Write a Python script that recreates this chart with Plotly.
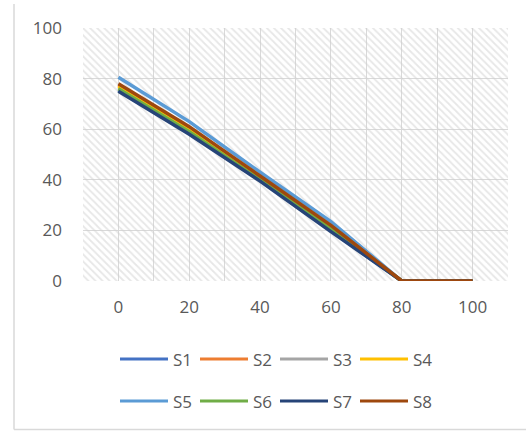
import plotly.graph_objects as go

# Category positions on the x axis
x_vals = [0, 20, 40, 60, 80, 100]

# Series values
s1 = [75.5, 58.5, 40.0, 20.0, 0, 0]
s2 = [77.5, 60.5, 41.0, 21.5, 0, 0]
s3 = [76.5, 59.5, 40.5, 21.0, 0, 0]
s4 = [77.0, 60.0, 40.5, 21.0, 0, 0]
s5 = [80.5, 63.0, 43.0, 23.5, 0, 0]
s6 = [76.0, 59.0, 40.0, 20.5, 0, 0]
s7 = [75.0, 58.0, 39.5, 19.5, 0, 0]
s8 = [78.0, 61.0, 41.5, 22.0, 0, 0]

series_names = ["S1", "S2", "S3", "S4", "S5", "S6", "S7", "S8"]
series_values = [s1, s2, s3, s4, s5, s6, s7, s8]
series_colors = ["#4472C4", "#ED7D31", "#A5A5A5", "#FFC000",
                 "#5B9BD5", "#70AD47", "#264478", "#9E480E"]

x_range = [-10, 110]
y_range = [0, 100]

W, H = 526, 431
ML, MR, MT, MB = 83, 18, 28, 150
PW, PH = W - ML - MR, H - MT - MB

TEXT = "#595959"
GRID = "#d9d9d9"
FONT = "Open Sans"

fig = go.Figure()

# Hatched plot-area background
fig.add_trace(go.Scatter(
    x=[x_range[0], x_range[1], x_range[1], x_range[0], x_range[0]],
    y=[y_range[0], y_range[0], y_range[1], y_range[1], y_range[0]],
    fill="toself",
    mode="lines",
    line=dict(width=0),
    fillcolor="rgba(0,0,0,0)",
    fillpattern=dict(shape="\\", size=5, solidity=0.35,
                     fgcolor="#cfcfcf", bgcolor="rgba(0,0,0,0)"),
    hoverinfo="skip",
    showlegend=False,
))

for name, vals, color in zip(series_names, series_values, series_colors):
    fig.add_trace(go.Scatter(
        x=x_vals, y=vals, name=name, mode="lines",
        line=dict(color=color, width=3.5),
        showlegend=False,
    ))


def px_to_paper_x(px):
    return (px - ML) / PW


def px_to_paper_y(py):
    return (H - MB - py) / PH


shapes = []
annotations = []

# Custom legend: two rows of four entries
row_y = [359, 401]
for i, (name, color) in enumerate(zip(series_names, series_colors)):
    row, col = divmod(i, 4)
    x0 = 120 + 80 * col
    y = row_y[row]
    shapes.append(dict(
        type="line", xref="paper", yref="paper",
        x0=px_to_paper_x(x0), x1=px_to_paper_x(x0 + 48),
        y0=px_to_paper_y(y), y1=px_to_paper_y(y),
        line=dict(color=color, width=3),
    ))
    annotations.append(dict(
        xref="paper", yref="paper",
        x=px_to_paper_x(x0 + 51), y=px_to_paper_y(y),
        xanchor="left", yanchor="middle", showarrow=False,
        text=name, font=dict(family=FONT, size=17, color=TEXT),
    ))

# Chart-area border (left and bottom edges)
shapes.append(dict(type="line", xref="paper", yref="paper",
                   x0=px_to_paper_x(14), x1=px_to_paper_x(14),
                   y0=px_to_paper_y(4), y1=px_to_paper_y(429.5),
                   line=dict(color=GRID, width=1.5)))
shapes.append(dict(type="line", xref="paper", yref="paper",
                   x0=px_to_paper_x(14), x1=px_to_paper_x(W),
                   y0=px_to_paper_y(429.5), y1=px_to_paper_y(429.5),
                   line=dict(color=GRID, width=1.5)))

fig.update_layout(
    width=W, height=H,
    margin=dict(l=ML, r=MR, t=MT, b=MB),
    paper_bgcolor="white",
    plot_bgcolor="white",
    font=dict(family=FONT, size=17, color=TEXT),
    shapes=shapes,
    annotations=annotations,
    showlegend=False,
    xaxis=dict(
        range=x_range, tick0=0, dtick=20,
        showgrid=True, gridcolor=GRID, gridwidth=1,
        minor=dict(dtick=10, tick0=0, showgrid=True, gridcolor=GRID, gridwidth=1),
        zeroline=False, showline=False,
        ticklabelstandoff=14,
        tickfont=dict(family=FONT, size=17, color=TEXT),
        fixedrange=True,
    ),
    yaxis=dict(
        range=y_range, tick0=0, dtick=20,
        showgrid=True, gridcolor=GRID, gridwidth=1,
        zeroline=False, showline=False,
        ticklabelstandoff=20,
        tickfont=dict(family=FONT, size=17, color=TEXT),
        fixedrange=True,
    ),
)

fig.write_html("out.html")
